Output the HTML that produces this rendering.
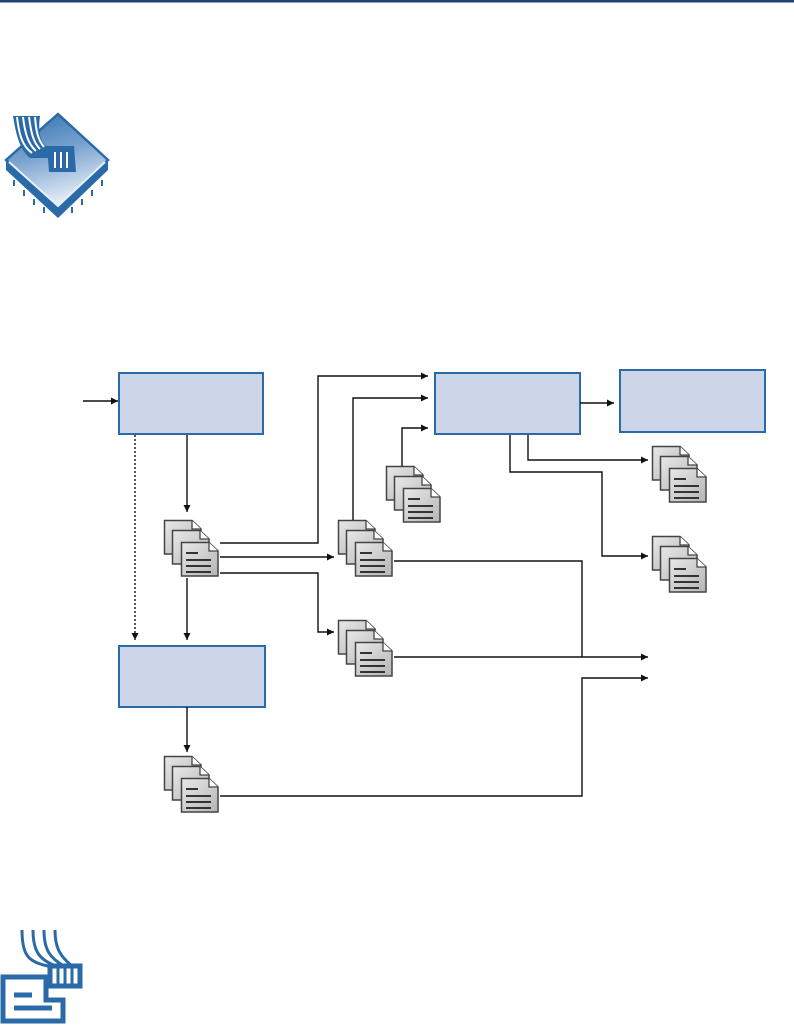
<!DOCTYPE html>
<html><head><meta charset="utf-8"><style>
html,body{margin:0;padding:0;background:#fff;width:794px;height:1025px;overflow:hidden}
</style></head><body>
<svg width="794" height="1025" viewBox="0 0 794 1025" xmlns="http://www.w3.org/2000/svg">
<defs>
<marker id="ar" viewBox="0 0 10 10" refX="10" refY="5" markerWidth="8" markerHeight="7" orient="auto" markerUnits="userSpaceOnUse"><path d="M0,0 L10,5 L0,10 z" fill="#111"/></marker>
<linearGradient id="dg" x1="0" y1="0" x2="1" y2="1"><stop offset="0" stop-color="#e8e8e8"/><stop offset="1" stop-color="#b5b5b5"/></linearGradient>
<linearGradient id="cg" x1="0" y1="0" x2="0.3" y2="1"><stop offset="0" stop-color="#2f6fae"/><stop offset="0.5" stop-color="#7aa3cf"/><stop offset="1" stop-color="#e3ecf6"/></linearGradient>
<g id="doc"><path d="M0.5,0.5 H28 L37,9 V34 H0.5 Z" fill="url(#dg)" stroke="#444" stroke-width="1.5"/><path d="M28,0.5 V9 H37" fill="#fff" stroke="#444" stroke-width="1.3"/></g>
<g id="stk">
<use href="#doc" x="0" y="0"/><use href="#doc" x="8" y="10"/><use href="#doc" x="17" y="22"/>
<g stroke="#333" stroke-width="2"><line x1="22" y1="33" x2="34" y2="33"/><line x1="22" y1="40" x2="47" y2="40"/><line x1="22" y1="46" x2="47" y2="46"/><line x1="22" y1="52" x2="47" y2="52"/></g>
</g>
</defs>
<rect x="0" y="0" width="794" height="2.5" fill="#1f447c"/>

<!-- top icon -->
<path d="M6,160 L6,170 L58,218 L108,170 L108,160 Z" fill="#2a6aa8"/>
<path d="M6,160 L58,114 L108,160 L58,208 Z" fill="url(#cg)" stroke="#2a6aa8" stroke-width="2.5"/>
<path d="M9,162 L58,206 L105,162" fill="none" stroke="#e8f0f8" stroke-width="2"/>
<g stroke="#2a6aa8" stroke-width="2"><path d="M14,180 V186 M24,190 V196 M34,199 V205 M44,207 V213 M72,207 V213 M82,199 V205 M92,190 V196 M102,180 V186"/></g>
<path d="M13,116 H40 C38,130 40,142 46,146 L74,146 L76,172 H49 L48,158 L30,158 C20,150 16,135 13,116 Z" fill="#2a6aa8"/>
<g fill="none" stroke="#fff" stroke-width="2"><path d="M17,117 C19,134 22,146 32,153"/><path d="M23,117 C25,133 28,144 36,151"/><path d="M29,117 C31,132 33,142 40,149"/><path d="M35,117 C36,131 38,140 44,147"/><path d="M55,152 V168 M61,152 V168 M67,152 V168"/></g>

<!-- boxes -->
<g fill="#cdd6e8" stroke="#2a6aa8" stroke-width="2">
<rect x="119" y="373" width="144" height="61"/>
<rect x="435" y="373" width="145" height="61"/>
<rect x="620" y="370" width="145" height="62"/>
<rect x="119" y="646" width="146" height="61"/>
</g>

<!-- stacks -->
<use href="#stk" x="164" y="520"/>
<use href="#stk" x="338" y="520"/>
<use href="#stk" x="338" y="620"/>
<use href="#stk" x="386" y="466"/>
<use href="#stk" x="652" y="446"/>
<use href="#stk" x="652" y="536"/>
<use href="#stk" x="164" y="756"/>

<!-- connectors -->
<g fill="none" stroke="#111" stroke-width="1.4">
<path d="M83,401 H118" marker-end="url(#ar)"/>
<path d="M187,435 V512" marker-end="url(#ar)"/>
<path d="M135,435 V640" stroke-dasharray="2,2" marker-end="url(#ar)"/>
<path d="M187,578 V640" marker-end="url(#ar)"/>
<path d="M220,543 H318 V376 H428" marker-end="url(#ar)"/>
<path d="M220,557 H334" marker-end="url(#ar)"/>
<path d="M220,573 H318 V632 H334" marker-end="url(#ar)"/>
<path d="M353,520 V398 H428" marker-end="url(#ar)"/>
<path d="M402,466 V428 H428" marker-end="url(#ar)"/>
<path d="M580,403 H614" marker-end="url(#ar)"/>
<path d="M528,435 V460 H648" marker-end="url(#ar)"/>
<path d="M510,435 V472 H602 V556 H648" marker-end="url(#ar)"/>
<path d="M394,561 H582 V657"/>
<path d="M394,657 H648" marker-end="url(#ar)"/>
<path d="M220,796 H582 V678 H648" marker-end="url(#ar)"/>
<path d="M187,707 V752" marker-end="url(#ar)"/>
</g>

<!-- bottom icon -->
<g fill="none" stroke="#2a6aa8" stroke-width="5">
<path d="M3,977 H46 V1000 H63 V1021 H3 Z" fill="#fff"/>
<line x1="14" y1="995" x2="32" y2="995"/><line x1="14" y1="1008" x2="52" y2="1008"/>
<path d="M50,966 H80 V986 H50 Z" fill="#fff"/>
</g>
<g fill="none" stroke="#2a6aa8" stroke-width="3">
<path d="M22,930 C22,955 28,962 48,966"/><path d="M33,930 C33,952 40,960 56,966"/><path d="M44,930 C44,950 50,958 64,966"/><path d="M55,930 C55,948 60,956 72,966"/>
<path d="M58,968 V984 M65,968 V984 M72,968 V984"/>
</g>
</svg>
</body></html>
